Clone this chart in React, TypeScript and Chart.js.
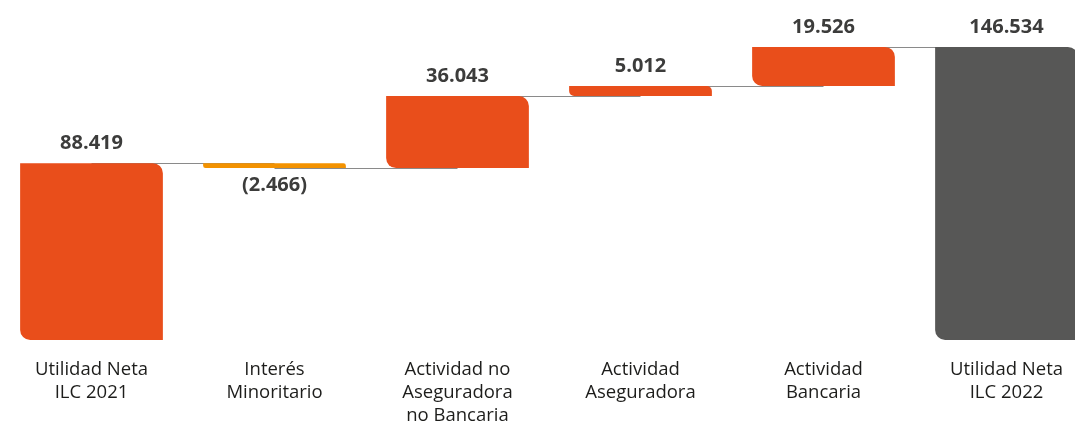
import React, { useEffect, useRef } from "react";
import { Chart, registerables } from "chart.js";

Chart.register(...registerables);

const categories: string[][] = [
  ["Utilidad Neta", "ILC 2021"],
  ["Interés", "Minoritario"],
  ["Actividad no", "Aseguradora", "no Bancaria"],
  ["Actividad", "Aseguradora"],
  ["Actividad", "Bancaria"],
  ["Utilidad Neta", "ILC 2022"],
];
const values: number[] = [88.419, -2.466, 36.043, 5.012, 19.526, 146.534];
const valueLabels: string[] = ["88.419", "(2.466)", "36.043", "5.012", "19.526", "146.534"];
const isTotal: boolean[] = [true, false, false, false, false, true];
const barColors: string[] = ["#E94E1B", "#F39200", "#E94E1B", "#E94E1B", "#E94E1B", "#575756"];

function buildFloating(): [number, number][] {
  const out: [number, number][] = [];
  let run = 0;
  values.forEach((v, i) => {
    if (isTotal[i]) {
      out.push([0, v]);
      run = v;
    } else {
      out.push([run, run + v]);
      run = run + v;
    }
  });
  return out;
}

const connectorPlugin = {
  id: "connectors",
  beforeDatasetsDraw(chart: any) {
    const meta = chart.getDatasetMeta(0);
    const y = chart.scales.y;
    const data = chart.data.datasets[0].data as [number, number][];
    const ctx = chart.ctx;
    ctx.save();
    ctx.strokeStyle = "#8a8a8a";
    ctx.lineWidth = 1;
    for (let i = 0; i < data.length - 1; i++) {
      const a = meta.data[i];
      const b = meta.data[i + 1];
      const level = data[i][1];
      const py = Math.round(y.getPixelForValue(level)) + 0.5;
      ctx.beginPath();
      ctx.moveTo(a.x, py);
      ctx.lineTo(b.x, py);
      ctx.stroke();
    }
    ctx.restore();
  },
};

const labelPlugin = {
  id: "valueLabels",
  afterDatasetsDraw(chart: any) {
    const meta = chart.getDatasetMeta(0);
    const ctx = chart.ctx;
    ctx.save();
    ctx.font = "bold 20px 'Open Sans', sans-serif";
    ctx.fillStyle = "#3c3c3b";
    ctx.textAlign = "center";
    meta.data.forEach((el: any, i: number) => {
      const top = Math.min(el.y, el.base);
      const bottom = Math.max(el.y, el.base);
      if (values[i] < 0) {
        ctx.textBaseline = "top";
        ctx.fillText(valueLabels[i], el.x, bottom + 7);
      } else {
        ctx.textBaseline = "bottom";
        ctx.fillText(valueLabels[i], el.x, top - 10);
      }
    });
    ctx.restore();
  },
};

export default function App() {
  const ref = useRef<HTMLCanvasElement>(null);
  useEffect(() => {
    if (!ref.current) return;
    const chart = new Chart(ref.current, {
      type: "bar",
      data: {
        labels: categories,
        datasets: [
          {
            data: buildFloating() as any,
            backgroundColor: barColors,
            borderSkipped: false,
            borderRadius: { topLeft: 0, topRight: 10, bottomLeft: 10, bottomRight: 0 },
            barPercentage: 0.78,
            categoryPercentage: 1,
          },
        ],
      },
      options: {
        animation: false,
        responsive: true,
        maintainAspectRatio: false,
        layout: { padding: 0 },
        plugins: { legend: { display: false }, tooltip: { enabled: false } },
        scales: {
          x: {
            grid: { display: false },
            border: { display: false },
            afterFit: (scale: any) => {
              scale.height = 85;
            },
            ticks: {
              color: "#1d1d1b",
              font: { family: "'Open Sans', sans-serif", size: 18.5, lineHeight: 1.243 },
              padding: 10,
              maxRotation: 0,
              autoSkip: false,
            },
          },
          y: { display: false, min: 0, max: 170 },
        },
      },
      plugins: [connectorPlugin, labelPlugin],
    });
    return () => chart.destroy();
  }, []);
  return (
    <div style={{ position: "fixed", left: 0, top: 0, width: 1075, height: 425, overflow: "hidden", background: "#fff" }}>
      <div style={{ position: "absolute", left: 0, top: 0, width: 1098, height: 425 }}>
        <canvas ref={ref} />
      </div>
    </div>
  );
}
